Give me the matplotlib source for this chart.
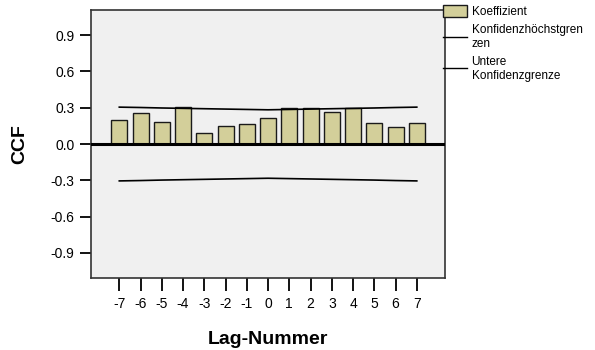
import matplotlib
matplotlib.use('Agg')
import matplotlib.pyplot as plt
from matplotlib.patches import Patch
from matplotlib.lines import Line2D

plt.rcParams['font.family'] = ['Liberation Sans', 'DejaVu Sans']

lags = [-7, -6, -5, -4, -3, -2, -1, 0, 1, 2, 3, 4, 5, 6, 7]
coef = [0.198, 0.259, 0.179, 0.308, 0.094, 0.146, 0.165, 0.217,
        0.297, 0.294, 0.264, 0.294, 0.176, 0.143, 0.176]
upper = [0.305, 0.302, 0.298, 0.295, 0.292, 0.289, 0.286, 0.283,
         0.286, 0.289, 0.292, 0.295, 0.298, 0.302, 0.305]
lower = [-u for u in upper]
yticks = [-0.9, -0.6, -0.3, 0.0, 0.3, 0.6, 0.9]

fig = plt.figure(figsize=(5.95, 3.5), dpi=100)
ax = fig.add_axes([0.153, 0.206, 0.595, 0.765])
ax.set_facecolor('#f0f0f0')

ax.bar(lags, coef, width=0.75, color='#d3cf9a', edgecolor='#1a1a1a', linewidth=1.0, zorder=2)
ax.plot(lags, upper, color='black', lw=1.2, zorder=3)
ax.plot(lags, lower, color='black', lw=1.2, zorder=3)
ax.axhline(0, color='black', lw=2.2, zorder=4)

ax.set_xlim(-8.33, 8.33)
ax.set_ylim(-1.107, 1.107)
ax.set_xticks(lags)
ax.set_xticklabels([str(l) for l in lags])
ax.set_yticks(yticks)
ax.set_yticklabels(['%.1f' % v for v in yticks])
ax.tick_params(axis='x', length=9, width=1.3, pad=5, labelsize=10, direction='out')
ax.tick_params(axis='y', length=8, width=1.3, pad=4, labelsize=10, direction='out')
for s in ax.spines.values():
    s.set_color('#333333')
    s.set_linewidth(1.2)

ax.set_xlabel('Lag-Nummer', fontsize=14, fontweight='bold', labelpad=14)
ax.set_ylabel('CCF', fontsize=14, fontweight='bold', labelpad=16)

handles = [Patch(facecolor='#d3cf9a', edgecolor='#1a1a1a', linewidth=1.0),
           Line2D([], [], color='black', lw=1.0),
           Line2D([], [], color='black', lw=1.0)]
labels = ['Koeffizient', 'Konfidenzhöchstgren\nzen', 'Untere\nKonfidenzgrenze']
ax.legend(handles, labels, loc='upper left', bbox_to_anchor=(0.745, 0.985),
          bbox_transform=fig.transFigure, frameon=False, fontsize=8.5,
          handlelength=2.0, handleheight=1.2, handletextpad=0.4,
          labelspacing=0.5, borderaxespad=0, borderpad=0)

fig.savefig('out.png', dpi=100)
